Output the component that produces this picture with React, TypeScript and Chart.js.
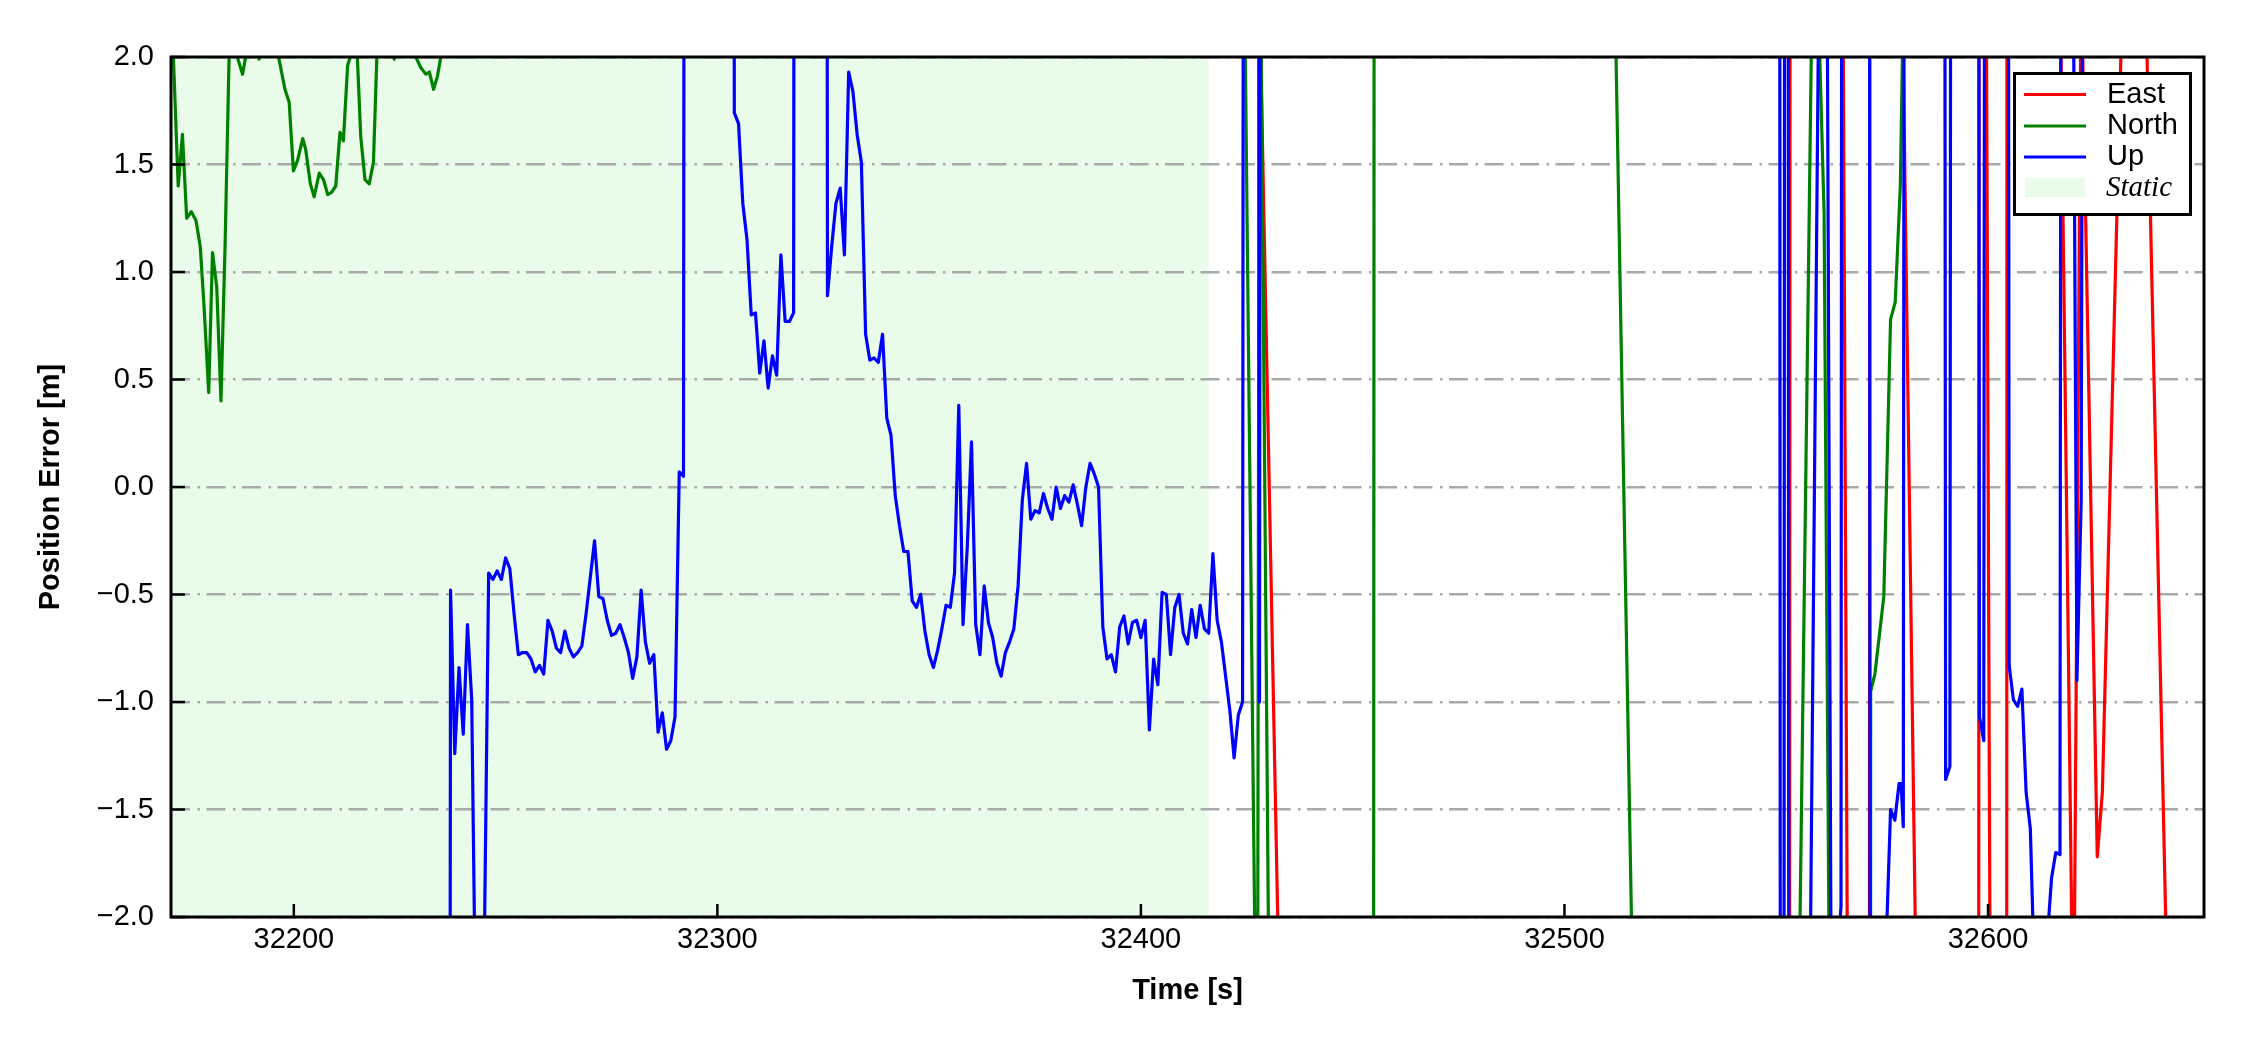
import React, { useEffect, useRef } from "react";
import { Chart, registerables } from "chart.js";

Chart.register(...registerables);

// ---- axes ----
const xMin = 32171;
const xMax = 32651;
const yMin = -2;
const yMax = 2;
const xTicks = [32200, 32300, 32400, 32500, 32600];
const yTicks = [-2, -1.5, -1, -0.5, 0, 0.5, 1, 1.5, 2];
const xTitle = "Time [s]";
const yTitle = "Position Error [m]";

// ---- static period ----
const staticSpan = [32171, 32416];
const staticLabel = "Static";

// ---- series ----
const seriesNames = ["East", "North", "Up"];

const eastT = [
  32171, 32427, 32434, 32552.7, 32553.7, 32565.8, 32566.8, 32571.8, 32572.3, 32579.5,
  32583.3, 32597.5, 32598.2, 32599.6, 32600.5, 32604.2, 32604.7, 32617.0, 32620.0, 32620.3,
  32622.0, 32625.8, 32627.0, 32631.5, 32637.0, 32642.5, 32651,
];
const eastV = [
  20, 3.3, -3.7, -20, 20, 2.2, -2.2, -20, 20, 2.7,
  -2.7, -20, 20, 2.3, -2.3, -20, 20, 2.4, -2.4, -2.4,
  2.4, -1.72, -1.42, 2.1, 2.5, -2.5, -20,
];

const northT = [
  32171.0, 32172.7, 32173.7, 32174.7, 32175.8, 32176.9, 32177.9, 32178.8, 32179.9, 32180.8,
  32181.8, 32182.8, 32183.8, 32184.7, 32185.7, 32186.8, 32187.9, 32188.8, 32190.0, 32191.8,
  32193.0, 32195.0, 32196.5, 32197.9, 32198.9, 32199.9, 32200.9, 32202.1, 32202.8, 32203.9,
  32204.8, 32206.0, 32207.0, 32208.0, 32208.9, 32209.9, 32210.9, 32211.7, 32212.7, 32213.6,
  32214.5, 32215.0, 32215.8, 32216.8, 32217.8, 32218.8, 32219.6, 32221.0, 32223.7, 32226.0,
  32228.8, 32230.0, 32231.2, 32232.0, 32233.0, 32233.9, 32234.7, 32236.0, 32424.0, 32427.5,
  32428.0, 32430.5, 32454.5, 32455.5, 32511.0, 32517.0, 32555.3, 32558.6, 32560.0, 32561.3,
  32562.6, 32572.0, 32572.3, 32573.3, 32575.4, 32577.0, 32578.1, 32579.3, 32579.8, 32581.0,
  32651.0,
];
const northV = [
  2.3, 1.40, 1.64, 1.25, 1.28, 1.24, 1.12, 0.84, 0.44, 1.09,
  0.93, 0.40, 1.15, 1.99, 2.1, 1.99, 1.92, 2.02, 2.2, 1.99,
  2.2, 2.1, 1.99, 1.85, 1.79, 1.47, 1.52, 1.62, 1.57, 1.41,
  1.35, 1.46, 1.43, 1.36, 1.37, 1.40, 1.65, 1.61, 1.96, 2.02,
  2.05, 2.0, 1.63, 1.43, 1.41, 1.51, 2.0, 2.2, 1.99, 2.2,
  2.0, 1.95, 1.92, 1.93, 1.85, 1.91, 2.0, 2.4, 3.2, -3.2,
  3.0, -3.0, -20, 20, 3.3, -3.3, -2.5, 2.5, 2.2, 1.28,
  -2.5, -20, -0.95, -0.87, -0.51, 0.78, 0.86, 1.40, 2.0, 3.0,
  20,
];

const upT = [
  32171, 32236, 32237, 32238, 32239, 32240, 32241, 32242, 32243, 32244, 32245, 32246, 32247, 32248, 32249, 32250,
  32251, 32252, 32253, 32254, 32255, 32256, 32257, 32258, 32259, 32260, 32261, 32262, 32263, 32264, 32265,
  32266, 32267, 32268, 32269, 32270, 32271, 32272, 32273, 32274, 32275, 32276, 32277, 32278, 32279, 32280,
  32281, 32282, 32283, 32284, 32285, 32286, 32287, 32288, 32289, 32290, 32291, 32292, 32293, 32303,
  32304, 32305, 32306, 32307, 32308, 32309, 32310, 32311, 32312, 32313, 32314, 32315, 32316, 32317, 32318, 32319, 32325,
  32326, 32327, 32328, 32329, 32330, 32331, 32332, 32333, 32334, 32335, 32336, 32337, 32338, 32339, 32340,
  32341, 32342, 32343, 32344, 32345, 32346, 32347, 32348, 32349, 32350, 32351, 32352, 32353, 32354, 32355,
  32356, 32357, 32358, 32359, 32360, 32361, 32362, 32363, 32364, 32365, 32366, 32367, 32368, 32369, 32370,
  32371, 32372, 32373, 32374, 32375, 32376, 32377, 32378, 32379, 32380, 32381, 32382, 32383, 32384, 32385,
  32386, 32387, 32388, 32389, 32390, 32391, 32392, 32393, 32394, 32395, 32396, 32397, 32398, 32399, 32400,
  32401, 32402, 32403, 32404, 32405, 32406, 32407, 32408, 32409, 32410, 32411, 32412, 32413, 32414, 32415,
  32416, 32417, 32418, 32419, 32420, 32421, 32422, 32423, 32424, 32425, 32427, 32428, 32429,
  32550.4, 32551.4, 32552.4, 32553.4, 32558, 32560, 32562, 32563, 32564, 32565.3, 32566,
  32571.6, 32572.6, 32576, 32577, 32578, 32579, 32579.5, 32580, 32581,
  32589, 32590, 32591, 32592, 32597, 32598, 32599, 32600,
  32604, 32605, 32606, 32607, 32608, 32609, 32610, 32611,
  32614, 32615, 32616, 32617, 32618, 32620, 32621, 32622, 32622.5, 32651,
];
const upV = [
  -20, -20, -0.48, -1.24, -0.84, -1.15, -0.64, -0.99, -2.6, -3, -2.1, -0.40, -0.43, -0.39, -0.43, -0.33,
  -0.38, -0.59, -0.78, -0.77, -0.77, -0.80, -0.86, -0.83, -0.87, -0.62, -0.67, -0.75, -0.77, -0.67, -0.75,
  -0.79, -0.77, -0.74, -0.59, -0.42, -0.25, -0.51, -0.52, -0.62, -0.69, -0.68, -0.64, -0.70, -0.77, -0.89,
  -0.79, -0.48, -0.72, -0.82, -0.78, -1.14, -1.05, -1.22, -1.18, -1.07, 0.07, 0.05, 20, 20,
  1.74, 1.69, 1.32, 1.15, 0.80, 0.81, 0.53, 0.68, 0.46, 0.61, 0.52, 1.08, 0.77, 0.77, 0.81, 20, 20,
  0.89, 1.12, 1.32, 1.39, 1.08, 1.93, 1.84, 1.64, 1.51, 0.71, 0.59, 0.60, 0.58, 0.71, 0.32,
  0.24, -0.04, -0.18, -0.30, -0.30, -0.53, -0.56, -0.50, -0.67, -0.78, -0.84, -0.76, -0.66, -0.55, -0.56,
  -0.40, 0.38, -0.64, -0.28, 0.21, -0.64, -0.78, -0.46, -0.63, -0.70, -0.82, -0.88, -0.77, -0.72, -0.66,
  -0.46, -0.06, 0.11, -0.15, -0.11, -0.12, -0.03, -0.10, -0.15, 0.00, -0.10, -0.04, -0.07, 0.01, -0.08,
  -0.18, 0.00, 0.11, 0.06, 0.00, -0.65, -0.80, -0.78, -0.86, -0.65, -0.60, -0.73, -0.63, -0.62, -0.70,
  -0.62, -1.13, -0.80, -0.92, -0.49, -0.50, -0.78, -0.56, -0.50, -0.68, -0.73, -0.57, -0.70, -0.55, -0.66,
  -0.68, -0.31, -0.62, -0.72, -0.88, -1.04, -1.26, -1.06, -1.00, 20, 20, -1.0, 20,
  20, -20, 20, -20, -2.3, 2.2, 2.5, -2.5, -2.3, -1.95, 20,
  20, -20, -2.1, -1.50, -1.55, -1.38, -1.38, -1.58, 20,
  20, -1.36, -1.30, 20, 20, -1.07, -1.18, 20,
  20, -0.83, -0.99, -1.02, -0.94, -1.42, -1.59, -2.3,
  -2.1, -1.82, -1.70, -1.71, 20, 3, -0.90, -0.06, 4, 20,
];

// ---- styles ----
const COLORS = {
  east: "#ff0000",
  north: "#008000",
  up: "#0000ff",
  static: "#e9fce9",
  grid: "#a9a9a9",
};
const SANS = "'Liberation Sans', Arial, Helvetica, sans-serif";
const SERIF = "'Liberation Serif', 'Times New Roman', serif";

function toPoints(ts: number[], vs: number[]) {
  return ts.map((x, i) => ({ x, y: vs[i] }));
}

function fmtY(v: number) {
  const s = Math.abs(v).toFixed(1);
  return v < 0 ? "\u2212" + s : s;
}

const decorations = {
  id: "decorations",
  beforeDraw(chart: any) {
    const { ctx, chartArea: a, scales } = chart;
    ctx.save();
    ctx.fillStyle = "#ffffff";
    ctx.fillRect(0, 0, chart.width, chart.height);
    const x0 = scales.x.getPixelForValue(staticSpan[0]);
    const x1 = scales.x.getPixelForValue(staticSpan[1]);
    ctx.fillStyle = COLORS.static;
    ctx.fillRect(x0, a.top, x1 - x0, a.bottom - a.top);
    ctx.restore();
  },
  afterDraw(chart: any) {
    const { ctx, chartArea: a, scales } = chart;
    ctx.save();
    // inward ticks
    ctx.strokeStyle = "#000";
    ctx.lineWidth = 2.5;
    ctx.beginPath();
    for (const v of xTicks) {
      const p = scales.x.getPixelForValue(v);
      ctx.moveTo(p, a.bottom);
      ctx.lineTo(p, a.bottom - 13);
    }
    for (const v of yTicks) {
      const p = scales.y.getPixelForValue(v);
      ctx.moveTo(a.left, p);
      ctx.lineTo(a.left + 14, p);
    }
    ctx.stroke();
    // frame
    ctx.lineWidth = 3;
    ctx.strokeRect(a.left, a.top, a.right - a.left, a.bottom - a.top);

    // legend
    const lx = 2014.5, ly = 73.5, lw = 176, lh = 141;
    ctx.fillStyle = "#ffffff";
    ctx.fillRect(lx, ly, lw, lh);
    ctx.strokeStyle = "#000";
    ctx.lineWidth = 3;
    ctx.strokeRect(lx, ly, lw, lh);
    const rowY = [94.5, 126, 157];
    ctx.textBaseline = "middle";
    ctx.textAlign = "left";
    chart.data.datasets.forEach((ds: any, i: number) => {
      ctx.strokeStyle = ds.borderColor;
      ctx.lineWidth = 3.2;
      ctx.beginPath();
      ctx.moveTo(2024, rowY[i]);
      ctx.lineTo(2086, rowY[i]);
      ctx.stroke();
      ctx.fillStyle = "#000";
      ctx.font = `29px ${SANS}`;
      ctx.fillText(ds.label, 2107, rowY[i]);
    });
    ctx.fillStyle = COLORS.static;
    ctx.fillRect(2025, 178, 60, 19);
    ctx.fillStyle = "#000";
    ctx.font = `italic 29px ${SERIF}`;
    ctx.fillText(staticLabel, 2106, 188);
    ctx.restore();
  },
};

export default function App() {
  const ref = useRef<HTMLCanvasElement>(null);

  useEffect(() => {
    const canvas = ref.current;
    if (!canvas) return;
    const lineCommon = {
      pointRadius: 0,
      borderWidth: 3.2,
      tension: 0,
      fill: false,
      borderJoinStyle: "round" as const,
    };
    const chart = new Chart(canvas, {
      type: "line",
      data: {
        datasets: [
          { label: seriesNames[0], data: toPoints(eastT, eastV), borderColor: COLORS.east, order: 3, ...lineCommon },
          { label: seriesNames[1], data: toPoints(northT, northV), borderColor: COLORS.north, order: 2, ...lineCommon },
          { label: seriesNames[2], data: toPoints(upT, upV), borderColor: COLORS.up, order: 1, ...lineCommon },
        ],
      },
      options: {
        responsive: false,
        animation: false,
        devicePixelRatio: 1,
        layout: { padding: { left: 0, right: 46, top: 57, bottom: 0 } },
        plugins: { legend: { display: false }, tooltip: { enabled: false } },
        scales: {
          x: {
            type: "linear",
            min: xMin,
            max: xMax,
            afterBuildTicks: (s: any) => {
              s.ticks = xTicks.map((v) => ({ value: v }));
            },
            afterFit: (s: any) => {
              s.height = 133;
            },
            grid: { display: false, drawTicks: false },
            border: { display: false },
            ticks: {
              font: { size: 29, family: SANS },
              color: "#000",
              padding: 6,
              maxRotation: 0,
              autoSkip: false,
              callback: (v: any) => String(v),
            },
            title: {
              display: true,
              text: xTitle,
              color: "#000",
              font: { size: 29, weight: "bold", family: SANS },
              padding: { top: 0, bottom: 42 },
            },
          },
          y: {
            type: "linear",
            min: yMin,
            max: yMax,
            afterBuildTicks: (s: any) => {
              s.ticks = yTicks.map((v) => ({ value: v }));
            },
            afterFit: (s: any) => {
              s.width = 171;
            },
            grid: { color: COLORS.grid, lineWidth: 2.5, drawTicks: false },
            border: { display: false, dash: [19, 7.5, 2.5, 6.5] },
            ticks: {
              font: { size: 29, family: SANS },
              color: "#000",
              padding: 17,
              autoSkip: false,
              callback: (v: any) => fmtY(Number(v)),
            },
            title: {
              display: true,
              text: yTitle,
              color: "#000",
              font: { size: 29, weight: "bold", family: SANS },
              padding: { top: 34, bottom: 0 },
            },
          },
        },
      },
      plugins: [decorations],
    } as any);
    return () => chart.destroy();
  }, []);

  return (
    <div style={{ position: "absolute", left: 0, top: 0, width: 2250, height: 1050, background: "#fff" }}>
      <canvas ref={ref} width={2250} height={1050} style={{ display: "block", width: 2250, height: 1050 }} />
    </div>
  );
}
